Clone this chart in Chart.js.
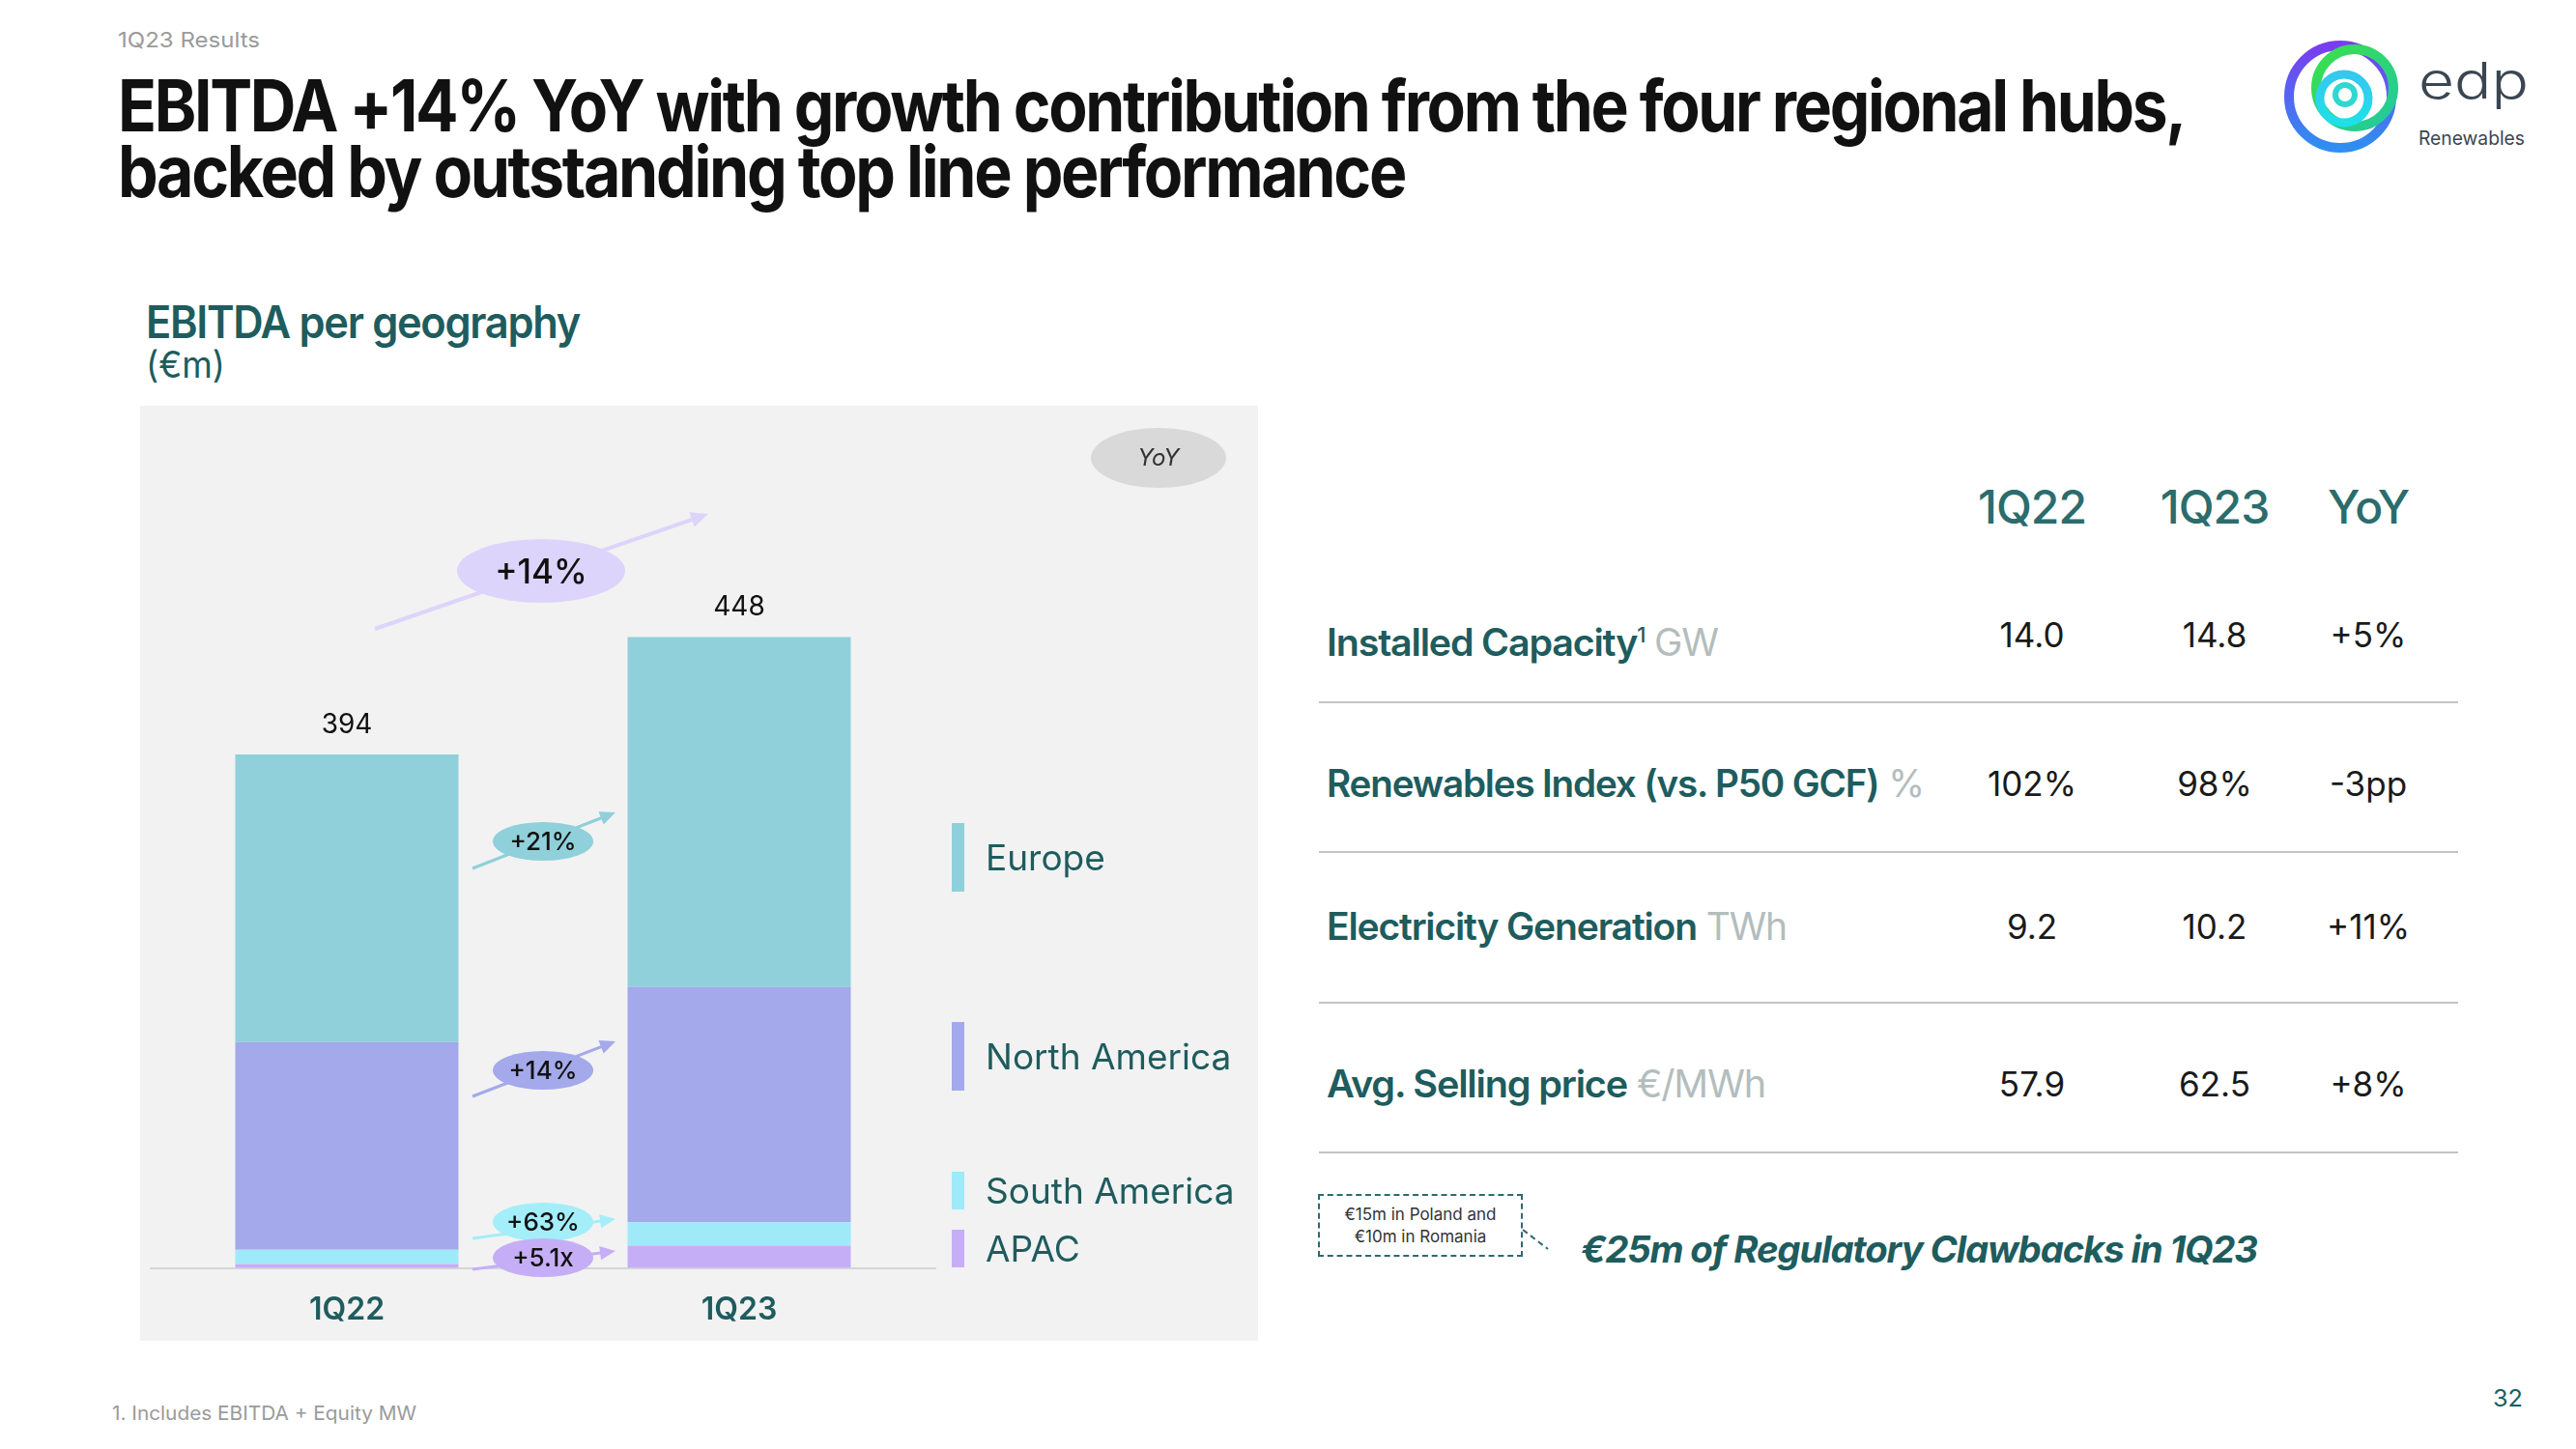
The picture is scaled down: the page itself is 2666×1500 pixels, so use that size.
<!DOCTYPE html>
<html>
<head>
<meta charset="utf-8">
<script src="https://cdn.jsdelivr.net/npm/chart.js@4.4.0/dist/chart.umd.min.js"></script>
<style>
  body { margin: 0; width: 2666px; height: 1500px; background: #fff; position: relative; overflow: hidden;
         font-family: Inter, "Noto Sans", sans-serif; }
  .t { position: absolute; white-space: nowrap; transform-origin: 0 50%; }
  .teal { color: #1e5c5e; }
  .panel { position: absolute; left: 145px; top: 420px; width: 1157px; height: 968px; background: #f2f2f2; }
  #chart { position: absolute; left: 145px; top: 420px; }
  .hdr { position: absolute; width: 200px; text-align: center; font-size: 48px; line-height: 60px; color: #2b6c6d; font-weight: 500; letter-spacing: -0.02em; }
  .val { position: absolute; width: 200px; text-align: center; font-size: 35px; line-height: 50px; color: #1a1a1a; }
  .lbl { position: absolute; left: 1373px; white-space: nowrap; transform-origin: 0 50%; font-size: 39px; line-height: 50px; letter-spacing: -0.03em; }
  .lbl b { font-weight: 600; color: #1e5c5e; }
  .lbl sup { font-size: 22px; font-weight: 500; color: #1e5c5e; }
  .lbl span { color: #b3bdbd; }
  .sep { position: absolute; left: 1365px; width: 1179px; height: 2px; background: #c4c4c4; }
  .title { font-size: 74px; line-height: 68px; font-weight: 650; color: #111; letter-spacing: -0.035em; }
</style>
</head>
<body>

<div class="t" style="left:122px;top:28px;font-size:22px;line-height:26px;color:#9a9a9a" data-w="147">1Q23 Results</div>
<div class="t title" style="left:122px;top:75px" data-w="2139">EBITDA +14% YoY with growth contribution from the four regional hubs,</div>
<div class="t title" style="left:122px;top:143px" data-w="1332">backed by outstanding top line performance</div>

<svg style="position:absolute;left:2340px;top:30px" width="300" height="150" viewBox="2340 30 300 150">
  <defs>
    <linearGradient id="g1" x1="0" y1="0" x2="0" y2="1">
      <stop offset="0" stop-color="#7a3cf0"/><stop offset="1" stop-color="#2f8ff0"/>
    </linearGradient>
    <linearGradient id="g2" x1="0" y1="0" x2="1" y2="1">
      <stop offset="0" stop-color="#3be04a"/><stop offset="1" stop-color="#22c8a0"/>
    </linearGradient>
    <linearGradient id="g3" x1="0" y1="0" x2="0" y2="1">
      <stop offset="0" stop-color="#35c8f0"/><stop offset="1" stop-color="#1fe0e8"/>
    </linearGradient>
  </defs>
  <circle cx="2422" cy="100" r="53" fill="none" stroke="url(#g1)" stroke-width="10"/>
  <circle cx="2437" cy="91" r="40" fill="none" stroke="url(#g2)" stroke-width="10"/>
  <circle cx="2426" cy="102" r="25" fill="none" stroke="url(#g3)" stroke-width="9"/>
  <circle cx="2427" cy="98" r="10" fill="none" stroke="#2fd8d0" stroke-width="6"/>
  <text x="2503" y="102" font-family="Inter" font-weight="300" font-size="52" fill="#3b4652" textLength="114" lengthAdjust="spacingAndGlyphs">edp</text>
  <text x="2503" y="150" font-family="Inter" font-size="20" fill="#3b4652" textLength="110" lengthAdjust="spacingAndGlyphs">Renewables</text>
</svg>

<div class="t teal" style="left:151px;top:305px;font-size:46px;line-height:56px;font-weight:600;letter-spacing:-0.03em" data-w="449">EBITDA per geography</div>
<div class="t teal" style="left:151px;top:353px;font-size:38px;line-height:48px" data-w="82">(€m)</div>

<div class="panel"></div>
<canvas id="chart" width="1157" height="981"></canvas>

<div id="table"></div>

<div style="position:absolute;left:1364px;top:1236px;width:208px;height:61px;border:2px dashed #2b6b6c;text-align:center;font-size:17px;line-height:23px;color:#333">
  <div style="margin-top:8px">€15m in Poland and</div><div>€10m in Romania</div>
</div>
<svg style="position:absolute;left:1570px;top:1265px" width="40" height="40">
  <line x1="6" y1="8" x2="32" y2="28" stroke="#2b6b6c" stroke-width="2" stroke-dasharray="6 4"/>
</svg>
<div class="t teal" style="left:1636px;top:1269px;font-size:38px;line-height:48px;font-weight:700;font-style:italic;letter-spacing:-0.03em" data-w="700">€25m of Regulatory Clawbacks in 1Q23</div>

<div class="t" style="left:116px;top:1451px;font-size:20px;line-height:24px;color:#9a9a9a" data-w="315">1. Includes EBITDA + Equity MW</div>
<div class="t teal" style="left:2580px;top:1433px;font-size:24px;line-height:30px" data-w="31">32</div>

<script>
// EBITDA per geography (€m)
const quarters = ['1Q22', '1Q23'];
const regions = ['Europe', 'North America', 'South America', 'APAC'];
const europe = [220, 268];
const northAmerica = [159, 180];
const southAmerica = [11, 18];
const apac = [3, 17];
const totals = [394, 448];
const growth = ['+21%', '+14%', '+63%', '+5.1x'];
const totalGrowth = '+14%';

// KPI table
const kpiNames = ['Installed Capacity', 'Renewables Index (vs. P50 GCF)', 'Electricity Generation', 'Avg. Selling price'];
const kpiNotes = ['1', '', '', ''];
const kpiUnits = ['GW', '%', 'TWh', '€/MWh'];
const kpi1Q22 = ['14.0', '102%', '9.2', '57.9'];
const kpi1Q23 = ['14.8', '98%', '10.2', '62.5'];
const kpiYoY = ['+5%', '-3pp', '+11%', '+8%'];

const colors = ['#8fd0da', '#a3a9ea', '#9feaf9', '#c6aef7'];
const bubbleColors = ['#8fd0da', '#a3a9ea', '#a3eef9', '#c6aef7'];

// table
const cols = [2103, 2292, 2451];
const rowY = [657, 811, 959, 1122];
const sepY = [727, 882, 1038, 1193];
const labelW = [405, 618, 476, 454];
let html = '';
['1Q22', '1Q23', 'YoY'].forEach((h, i) => {
  html += `<div class="hdr" style="left:${cols[i] - 100}px;top:${525 - 30}px">${h}</div>`;
});
kpiNames.forEach((name, i) => {
  const note = kpiNotes[i] ? `<sup>${kpiNotes[i]}</sup>` : '';
  html += `<div class="lbl" data-w="${labelW[i]}" style="top:${rowY[i] - 25}px"><b>${name}</b>${note} <span>${kpiUnits[i]}</span></div>`;
  [kpi1Q22[i], kpi1Q23[i], kpiYoY[i]].forEach((v, j) => {
    html += `<div class="val" style="left:${cols[j] - 100}px;top:${rowY[i] - 25}px">${v}</div>`;
  });
  html += `<div class="sep" style="top:${sepY[i] - 1}px"></div>`;
});
document.getElementById('table').innerHTML = html;

document.querySelectorAll('[data-w]').forEach(el => {
  const w = el.getBoundingClientRect().width;
  el.style.transform = `scaleX(${el.dataset.w / w})`;
});

// annotation layout (canvas px)
const growthY = [451, 688, 845, 882];
const arrowDy = [[28, -30], [27, -30], [17, -3], [12, -7]];
const legendBoxes = [[432, 71], [638, 71], [793, 39], [853, 39]];

function arrow(c, x1, y1, x2, y2, color, w, head) {
  const a = Math.atan2(y2 - y1, x2 - x1);
  c.strokeStyle = color;
  c.lineWidth = w;
  c.beginPath();
  c.moveTo(x1, y1);
  c.lineTo(x2 - head * 0.6 * Math.cos(a), y2 - head * 0.6 * Math.sin(a));
  c.stroke();
  c.fillStyle = color;
  c.beginPath();
  c.moveTo(x2, y2);
  c.lineTo(x2 - head * Math.cos(a) + head * 0.45 * Math.sin(a), y2 - head * Math.sin(a) - head * 0.45 * Math.cos(a));
  c.lineTo(x2 - head * Math.cos(a) - head * 0.45 * Math.sin(a), y2 - head * Math.sin(a) + head * 0.45 * Math.cos(a));
  c.closePath();
  c.fill();
}

function ellipse(c, x, y, rx, ry, color) {
  c.fillStyle = color;
  c.beginPath();
  c.ellipse(x, y, rx, ry, 0, 0, Math.PI * 2);
  c.fill();
}

const annotations = {
  id: 'annotations',
  afterDatasetsDraw(chart) {
    const c = chart.ctx;
    const top = chart.getDatasetMeta(chart.data.datasets.length - 1).data;
    c.save();
    c.textAlign = 'center';
    c.textBaseline = 'middle';

    // totals on top of the stacks
    c.fillStyle = '#111';
    c.font = '400 28px Inter';
    top.forEach((bar, i) => c.fillText(String(totals[i]), bar.x, bar.y - 31));

    // growth per region between the bars
    const bx = (top[0].x + top[0].width / 2 + top[1].x - top[1].width / 2) / 2;
    regions.forEach((r, i) => {
      const y = growthY[i];
      arrow(c, bx - 73, y + arrowDy[i][0], bx + 75, y + arrowDy[i][1], bubbleColors[i], 3, 16);
      ellipse(c, bx, y, 52, 20, bubbleColors[i]);
      c.fillStyle = '#111';
      c.font = '500 26px Inter';
      c.fillText(growth[i], bx, y + 1);
    });

    // total growth
    arrow(c, 243, 231, 588, 112, '#ddd4fb', 4, 18);
    ellipse(c, 415, 171, 87, 33, '#ddd4fb');
    c.fillStyle = '#111';
    c.font = '500 35px Inter';
    c.fillText(totalGrowth, 415, 173);

    // YoY pill
    ellipse(c, 1054, 54, 70, 31, '#d9d9d9');
    c.fillStyle = '#333';
    c.font = 'italic 400 24px Inter';
    c.fillText('YoY', 1054, 55);

    // legend
    c.textAlign = 'left';
    c.font = '400 37px Inter';
    regions.forEach((r, i) => {
      const [y, h] = legendBoxes[i];
      c.fillStyle = colors[i];
      c.fillRect(840, y, 13, h);
      c.fillStyle = '#1e5c5e';
      c.fillText(r, 875, y + h / 2 + 2);
    });
    c.restore();
  }
};

const seriesValues = [europe, northAmerica, southAmerica, apac];
const ctx = document.getElementById('chart').getContext('2d');
new Chart(ctx, {
  type: 'bar',
  data: {
    labels: quarters,
    datasets: regions.map((r, i) => ({
      label: r,
      data: seriesValues[i],
      backgroundColor: colors[i],
      borderWidth: 0,
      barPercentage: 0.569,
      categoryPercentage: 1
    })).reverse()
  },
  options: {
    responsive: false,
    animation: false,
    devicePixelRatio: 1,
    layout: { padding: { left: 11, right: 334, top: 0, bottom: 0 } },
    plugins: { legend: { display: false }, tooltip: { enabled: false } },
    scales: {
      x: {
        stacked: true,
        grid: { display: false, drawTicks: false },
        border: { display: true, color: '#d6d6d6', width: 2 },
        ticks: { color: '#1e5c5e', padding: 25, font: { family: 'Inter', size: 32, weight: '600' } }
      },
      y: { stacked: true, display: false, min: 0, max: 660 }
    }
  },
  plugins: [annotations]
});
</script>
</body>
</html>
